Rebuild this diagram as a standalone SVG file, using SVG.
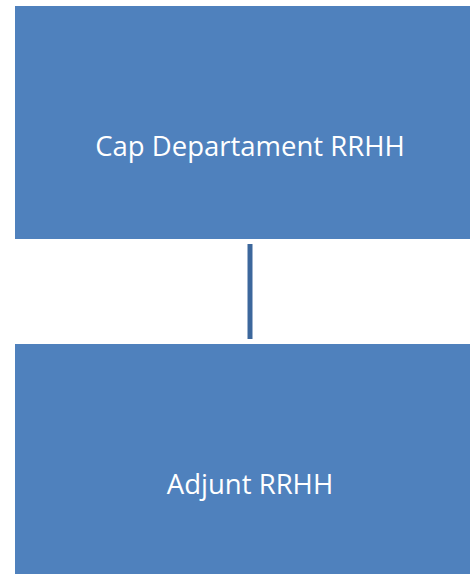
<svg xmlns="http://www.w3.org/2000/svg" width="470" height="574" viewBox="0 0 470 574">
<style>
.box{fill:#4F81BD;}
.lbl{font-family:"Open Sans","Liberation Sans",sans-serif;font-size:27.5px;fill:#FFFFFF;text-anchor:middle;}
.conn{stroke:#3C679C;stroke-width:5;fill:none;}
</style>
<rect width="470" height="574" fill="#FFFFFF"/>
<g id="connectors">
<line class="conn" x1="250" y1="244" x2="250" y2="339"/>
</g>
<g id="node-cap">
<rect class="box" x="15" y="6" width="470" height="233"/>
<text class="lbl" x="250" y="156">Cap Departament RRHH</text>
</g>
<g id="node-adjunt">
<rect class="box" x="15" y="344" width="470" height="235"/>
<text class="lbl" x="250" y="494">Adjunt RRHH</text>
</g>
</svg>
